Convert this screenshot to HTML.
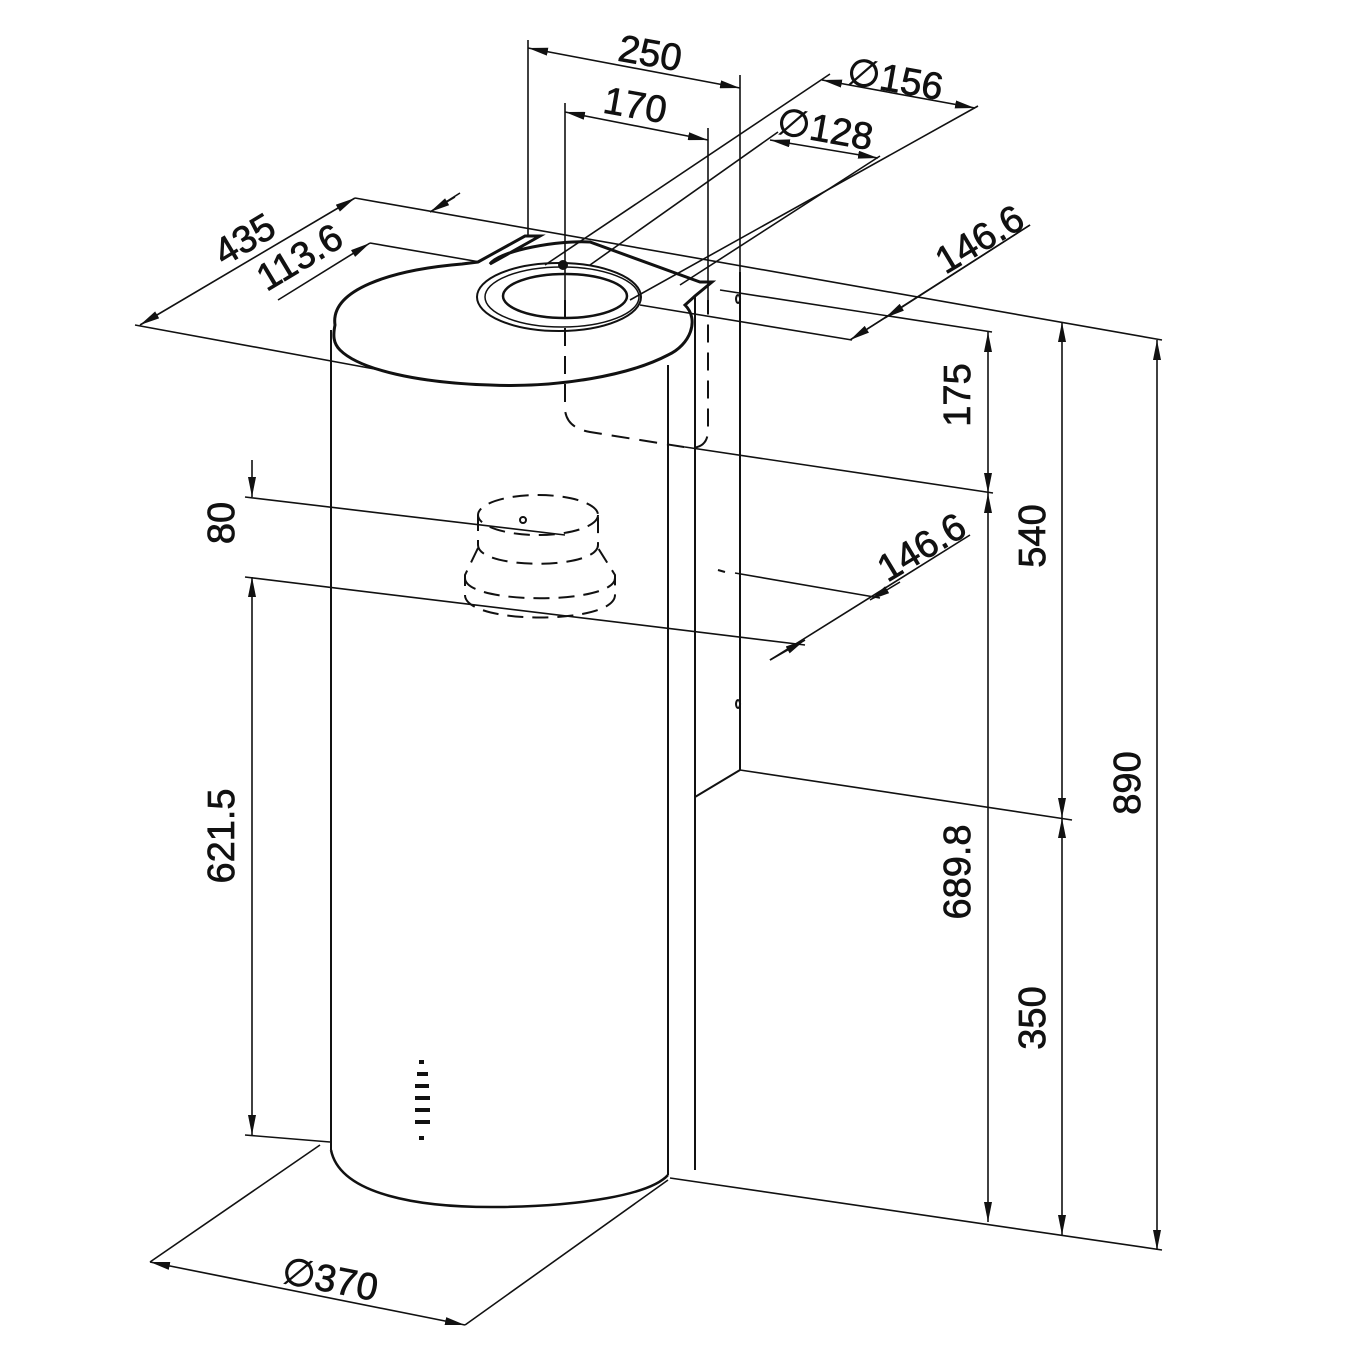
<!DOCTYPE html>
<html><head><meta charset="utf-8"><style>
html,body{margin:0;padding:0;background:#fff;width:1350px;height:1350px;overflow:hidden}
svg text{font-family:"Liberation Sans",sans-serif;font-size:38px;fill:#111;stroke:#111;stroke-width:0.7}
</style></head><body>
<svg width="1350" height="1350" viewBox="0 0 1350 1350" xmlns="http://www.w3.org/2000/svg">
<defs>
<marker id="a" viewBox="0 0 20 8" refX="20" refY="4" markerWidth="20" markerHeight="8" markerUnits="userSpaceOnUse" orient="auto-start-reverse"><path d="M0,0 L20,4 L0,8 z" fill="#111"/></marker>
</defs>
<g stroke="#111" stroke-width="2" fill="none">
<!-- cylinder body -->
<line x1="331" y1="330" x2="331" y2="1150"/>
<line x1="668" y1="365" x2="668" y2="1175"/>
<path d="M331,1150 C340,1195 420,1208 500,1207 C580,1206 650,1195 668,1175" stroke-width="2.5"/>
<!-- top -->
<path d="M335,325 C330,290 390,270 462,264 L478,262 L525,236 L540,236 L490,264 C500,250 560,240 590,242 L700,282 L712,282 L695,296 L685,305 C700,320 690,345 668,355 C630,375 560,388 490,385 C420,383 360,370 340,350 C333,343 333,335 335,325 Z" stroke-width="3"/>
<ellipse cx="559" cy="297" rx="82" ry="34" stroke-width="2"/>
<ellipse cx="562" cy="297" rx="77" ry="30" stroke-width="1.5"/>
<ellipse cx="565" cy="296" rx="62" ry="22" stroke-width="2.5"/>
<circle cx="563" cy="265" r="4" fill="#111"/>
<!-- second column -->
<line x1="695" y1="296" x2="695" y2="1170"/>
<line x1="740" y1="272" x2="740" y2="770"/>
<line x1="695" y1="797" x2="740" y2="770"/>
<path d="M738,295 a2,4 0 1,0 0.1,0 M738,700 a2,4 0 1,0 0.1,0"/>
<line x1="718" y1="570" x2="725" y2="572"/>
<!-- dashed duct -->
<path d="M565,300 L565,410 Q567,428 590,432 L690,448 Q708,448 708,430 L708,300" stroke-dasharray="18,10"/>
<!-- dashed spigot -->
<g stroke-dasharray="16,9">
<ellipse cx="538" cy="515" rx="60" ry="20"/>
<path d="M478,515 L478,545 C478,570 598,570 598,545 L598,515"/>
<path d="M478,548 L465,575 L465,595 C465,625 615,625 615,595 L615,575 L598,548"/>
<path d="M465,578 C465,605 615,605 615,578"/>
</g>
<circle cx="523" cy="520" r="3"/>
</g>
<!-- lamp dashes -->
<g fill="#111">
<rect x="419" y="1060" width="5" height="4"/>
<rect x="417" y="1072" width="11" height="4"/>
<rect x="415" y="1084" width="14" height="4"/>
<rect x="415" y="1096" width="15" height="4"/>
<rect x="415" y="1108" width="15" height="4"/>
<rect x="415" y="1120" width="15" height="4"/>
<rect x="419" y="1136" width="5" height="4"/>
</g>
<!-- dimension lines -->
<g stroke="#111" stroke-width="1.6" fill="none">
<line x1="355" y1="198" x2="1162" y2="340"/>
<line x1="370" y1="243" x2="480" y2="262"/>
<line x1="720" y1="290" x2="992" y2="332"/>
<line x1="640" y1="305" x2="852" y2="340"/>
<line x1="685" y1="447" x2="993" y2="493"/>
<line x1="740" y1="770" x2="1072" y2="820"/>
<line x1="670" y1="1178" x2="1162" y2="1250"/>
<line x1="245" y1="497" x2="565" y2="535"/>
<line x1="245" y1="577" x2="805" y2="645"/>
<line x1="245" y1="1135" x2="330" y2="1142"/>
<line x1="735" y1="573" x2="880" y2="598"/>
<line x1="135" y1="325" x2="380" y2="370"/>
<line x1="528" y1="40" x2="528" y2="235"/>
<line x1="740" y1="75" x2="740" y2="272"/>
<line x1="565" y1="103" x2="565" y2="300"/>
<line x1="708" y1="128" x2="708" y2="300"/>
<line x1="830" y1="74" x2="545" y2="265"/>
<line x1="978" y1="106" x2="630" y2="300"/>
<line x1="778" y1="132" x2="590" y2="265"/>
<line x1="880" y1="156" x2="680" y2="285"/>
<line x1="1030" y1="225" x2="850" y2="340"/>
<line x1="970" y1="535" x2="770" y2="660"/>
<line x1="320" y1="1145" x2="150" y2="1262"/>
<line x1="668" y1="1180" x2="465" y2="1325"/>
<line x1="252" y1="460" x2="252" y2="497" marker-end="url(#a)"/>
<line x1="1157" y1="340" x2="1157" y2="1250" marker-start="url(#a)" marker-end="url(#a)"/>
<line x1="1062" y1="322" x2="1062" y2="818" marker-start="url(#a)" marker-end="url(#a)"/>
<line x1="1062" y1="818" x2="1062" y2="1235" marker-start="url(#a)" marker-end="url(#a)"/>
<line x1="988" y1="332" x2="988" y2="493" marker-start="url(#a)" marker-end="url(#a)"/>
<line x1="988" y1="493" x2="988" y2="1222" marker-start="url(#a)" marker-end="url(#a)"/>
<line x1="252" y1="577" x2="252" y2="1135" marker-start="url(#a)" marker-end="url(#a)"/>
<line x1="140" y1="325" x2="355" y2="198" marker-start="url(#a)" marker-end="url(#a)"/>
<line x1="278" y1="300" x2="370" y2="243" marker-end="url(#a)"/>
<line x1="460" y1="193" x2="430" y2="212"/>
<line x1="430" y1="212" x2="455" y2="197" marker-start="url(#a)"/>
<line x1="528" y1="48" x2="740" y2="88" marker-start="url(#a)" marker-end="url(#a)"/>
<line x1="565" y1="112" x2="708" y2="140" marker-start="url(#a)" marker-end="url(#a)"/>
<line x1="822" y1="80" x2="975" y2="108" marker-start="url(#a)" marker-end="url(#a)"/>
<line x1="770" y1="140" x2="878" y2="158" marker-start="url(#a)" marker-end="url(#a)"/>
<line x1="850" y1="340" x2="905" y2="305" marker-start="url(#a)"/>
<line x1="885" y1="318" x2="1030" y2="225" marker-start="url(#a)"/>
<line x1="770" y1="660" x2="805" y2="640" marker-end="url(#a)"/>
<line x1="870" y1="600" x2="900" y2="582" marker-start="url(#a)"/>
<line x1="150" y1="1262" x2="465" y2="1325" marker-start="url(#a)" marker-end="url(#a)"/>
</g>
<!-- labels -->
<text x="650" y="66" text-anchor="middle" transform="rotate(10 650 54)">250</text>
<text x="635" y="118" text-anchor="middle" transform="rotate(10 635 106)">170</text>
<text x="895" y="92" text-anchor="middle" transform="rotate(10 895 80)">∅156</text>
<text x="825" y="142" text-anchor="middle" transform="rotate(10 825 130)">∅128</text>
<text x="245" y="252" text-anchor="middle" transform="rotate(-31 245 240)">435</text>
<text x="300" y="270" text-anchor="middle" transform="rotate(-31 300 258)">113.6</text>
<text x="980" y="252" text-anchor="middle" transform="rotate(-31 980 240)">146.6</text>
<text x="922" y="560" text-anchor="middle" transform="rotate(-31 922 548)">146.6</text>
<text x="983" y="408" text-anchor="middle" transform="rotate(-90 970 408)">175</text>
<text x="1057" y="548" text-anchor="middle" transform="rotate(-90 1045 548)">540</text>
<text x="1057" y="1030" text-anchor="middle" transform="rotate(-90 1045 1030)">350</text>
<text x="983" y="885" text-anchor="middle" transform="rotate(-90 970 885)">689.8</text>
<text x="1152" y="795" text-anchor="middle" transform="rotate(-90 1140 795)">890</text>
<text x="246" y="535" text-anchor="middle" transform="rotate(-90 234 535)">80</text>
<text x="246" y="848" text-anchor="middle" transform="rotate(-90 234 848)">621.5</text>
<text x="330" y="1292" text-anchor="middle" transform="rotate(11 330 1280)">∅370</text>
</svg>
</body></html>
